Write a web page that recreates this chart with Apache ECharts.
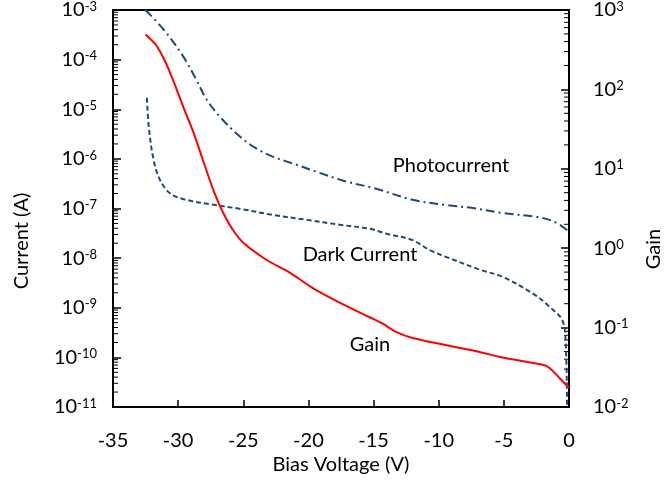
<!DOCTYPE html>
<html>
<head>
<meta charset="utf-8">
<script src="https://cdn.jsdelivr.net/npm/echarts@6/dist/echarts.min.js"></script>
<style>
  html, body { margin: 0; padding: 0; background: #fff; }
  #chart { width: 668px; height: 481px; }
</style>
</head>
<body>
<div id="chart"></div>
<script>
// values: bias (V), current (A), gain
const photoBias = [-32.5, -31.1, -29.6, -28.6, -27.8, -26.8, -25.5, -24.2, -22.7, -20.9, -19.4, -17.1, -14.8, -12.0, -9.4, -7.4, -5.1, -2.5, -1.5, -0.7, 0]
const photoCurrent = [1.0e-3, 4.0e-4, 1.15e-4, 3.9e-5, 1.55e-5, 7.1e-6, 3.2e-6, 1.74e-6, 1.1e-6, 7.6e-7, 5.5e-7, 3.5e-7, 2.5e-7, 1.5e-7, 1.17e-7, 1.02e-7, 8.1e-8, 6.8e-8, 5.9e-8, 4.7e-8, 3.4e-8]

const darkBias = [-32.4, -32.25, -31.9, -31.4, -30.6, -29.4, -27.4, -25.2, -22.7, -20.1, -17.6, -15.3, -14.0, -12.0, -10.7, -9.4, -6.8, -5.1, -2.8, -1.5, -0.5, -0.25, -0.15]
const darkCurrent = [1.7e-5, 4.4e-6, 1.0e-6, 3.8e-7, 2.0e-7, 1.5e-7, 1.2e-7, 9.8e-8, 7.4e-8, 5.9e-8, 4.7e-8, 3.9e-8, 3.1e-8, 2.3e-8, 1.45e-8, 1.05e-8, 5.8e-9, 4.2e-9, 1.95e-9, 1.05e-9, 5.5e-10, 1.8e-10, 1e-11]

const gainBias = [-32.5, -32.05, -31.7, -31.1, -30.4, -29.6, -28.8, -28.1, -27.2, -26.5, -25.8, -25.0, -23.2, -21.4, -19.6, -17.3, -15.3, -14.3, -13.2, -12.0, -9.4, -6.8, -5.1, -2.0, -1.5, -0.75, 0]
const gainValues = [490, 417, 363, 245, 132, 60, 28, 12.9, 4.9, 2.7, 1.7, 1.17, 0.71, 0.49, 0.31, 0.195, 0.135, 0.112, 0.087, 0.074, 0.060, 0.049, 0.042, 0.034, 0.031, 0.0234, 0.0174]

// axis ranges (decade exponents)
const currentDecades = [-11, -3]
const gainDecades = [-2, 3]

const FONT = 'Lato'
const BLUE = '#1F497D'

const chart = echarts.init(document.getElementById('chart'))

const pairs = (xs, ys) => xs.map((x, i) => [x, ys[i]])

// 2..9 x 10^n between decades, for the log minor ticks
const minorValues = ([lo, hi]) => {
  const out = []
  for (let e = lo; e < hi; e++) {
    for (let m = 2; m <= 9; m++) out.push(m * Math.pow(10, e))
  }
  return out
}

// 10^n labels with a raised exponent
const powLabel = (value) => '{b|10}{s|' + Math.round(Math.log10(value)) + '}'
const powRich = {
  b: { fontSize: 20, fontFamily: FONT, color: '#000' },
  s: { fontSize: 13, fontFamily: FONT, color: '#000', verticalAlign: 'top' }
}

const axisLine = { show: true, onZero: false, lineStyle: { color: '#000', width: 2 } }

const logAxis = ([lo, hi], position, align, margin) => ({
  type: 'log',
  logBase: 10,
  min: Math.pow(10, lo),
  max: Math.pow(10, hi),
  interval: 1,
  position,
  axisLine,
  axisTick: { show: true, inside: true, length: 8, lineStyle: { color: '#000', width: 1.5 } },
  splitLine: { show: false },
  axisLabel: { formatter: powLabel, rich: powRich, margin, align }
})

// short inward ticks drawn through the axis scale
const minorTickSeries = (axisIndex, xAt, dir, decades) => ({
  type: 'custom',
  yAxisIndex: axisIndex,
  clip: false,
  data: minorValues(decades).map((v) => [xAt, v]),
  renderItem: (params, api) => {
    const p = api.coord([api.value(0), api.value(1)])
    return {
      type: 'line',
      shape: { x1: p[0], y1: p[1], x2: p[0] + dir * 5, y2: p[1] },
      style: { stroke: '#000', lineWidth: 1 }
    }
  }
})

chart.setOption({
  animation: false,
  grid: { left: 113, right: 99, top: 10, bottom: 74 },
  xAxis: [
    {
      type: 'value',
      min: -35,
      max: 0,
      interval: 5,
      axisLine,
      axisTick: { show: true, inside: true, length: 7, lineStyle: { color: '#000', width: 1.5 } },
      splitLine: { show: false },
      axisLabel: { fontSize: 20, fontFamily: FONT, color: '#000', margin: 24 }
    },
    {
      // top frame line
      type: 'value',
      position: 'top',
      min: -35,
      max: 0,
      axisLine,
      axisTick: { show: false },
      axisLabel: { show: false },
      splitLine: { show: false }
    }
  ],
  yAxis: [
    logAxis(currentDecades, 'left', 'right', 16),
    logAxis(gainDecades, 'right', 'left', 24)
  ],
  graphic: [
    { type: 'text', x: 22, y: 241, rotation: Math.PI / 2, style: { text: 'Current (A)', fontSize: 20, fontFamily: FONT, fill: '#000', align: 'center', verticalAlign: 'middle' } },
    { type: 'text', x: 654, y: 249, rotation: Math.PI / 2, style: { text: 'Gain', fontSize: 20, fontFamily: FONT, fill: '#000', align: 'center', verticalAlign: 'middle' } },
    { type: 'text', x: 341, y: 465, style: { text: 'Bias Voltage (V)', fontSize: 20, fontFamily: FONT, fill: '#000', align: 'center', verticalAlign: 'middle' } },
    { type: 'text', x: 451, y: 166, style: { text: 'Photocurrent', fontSize: 20, fontFamily: FONT, fill: '#000', align: 'center', verticalAlign: 'middle' } },
    { type: 'text', x: 360, y: 255, style: { text: 'Dark Current', fontSize: 20, fontFamily: FONT, fill: '#000', align: 'center', verticalAlign: 'middle' } },
    { type: 'text', x: 370, y: 345, style: { text: 'Gain', fontSize: 20, fontFamily: FONT, fill: '#000', align: 'center', verticalAlign: 'middle' } }
  ],
  series: [
    {
      name: 'Photocurrent',
      type: 'line',
      yAxisIndex: 0,
      showSymbol: false,
      smooth: 0.35,
      lineStyle: { color: BLUE, width: 2, type: [9, 4, 2, 4] },
      data: pairs(photoBias, photoCurrent)
    },
    {
      name: 'Dark Current',
      type: 'line',
      yAxisIndex: 0,
      showSymbol: false,
      smooth: 0.35,
      lineStyle: { color: BLUE, width: 2, type: [5, 3] },
      data: pairs(darkBias, darkCurrent)
    },
    {
      name: 'Gain',
      type: 'line',
      yAxisIndex: 1,
      showSymbol: false,
      smooth: 0.35,
      lineStyle: { color: '#FF0000', width: 2 },
      data: pairs(gainBias, gainValues)
    },
    minorTickSeries(0, -35, 1, currentDecades),
    minorTickSeries(1, 0, -1, gainDecades)
  ]
})
</script>
</body>
</html>
